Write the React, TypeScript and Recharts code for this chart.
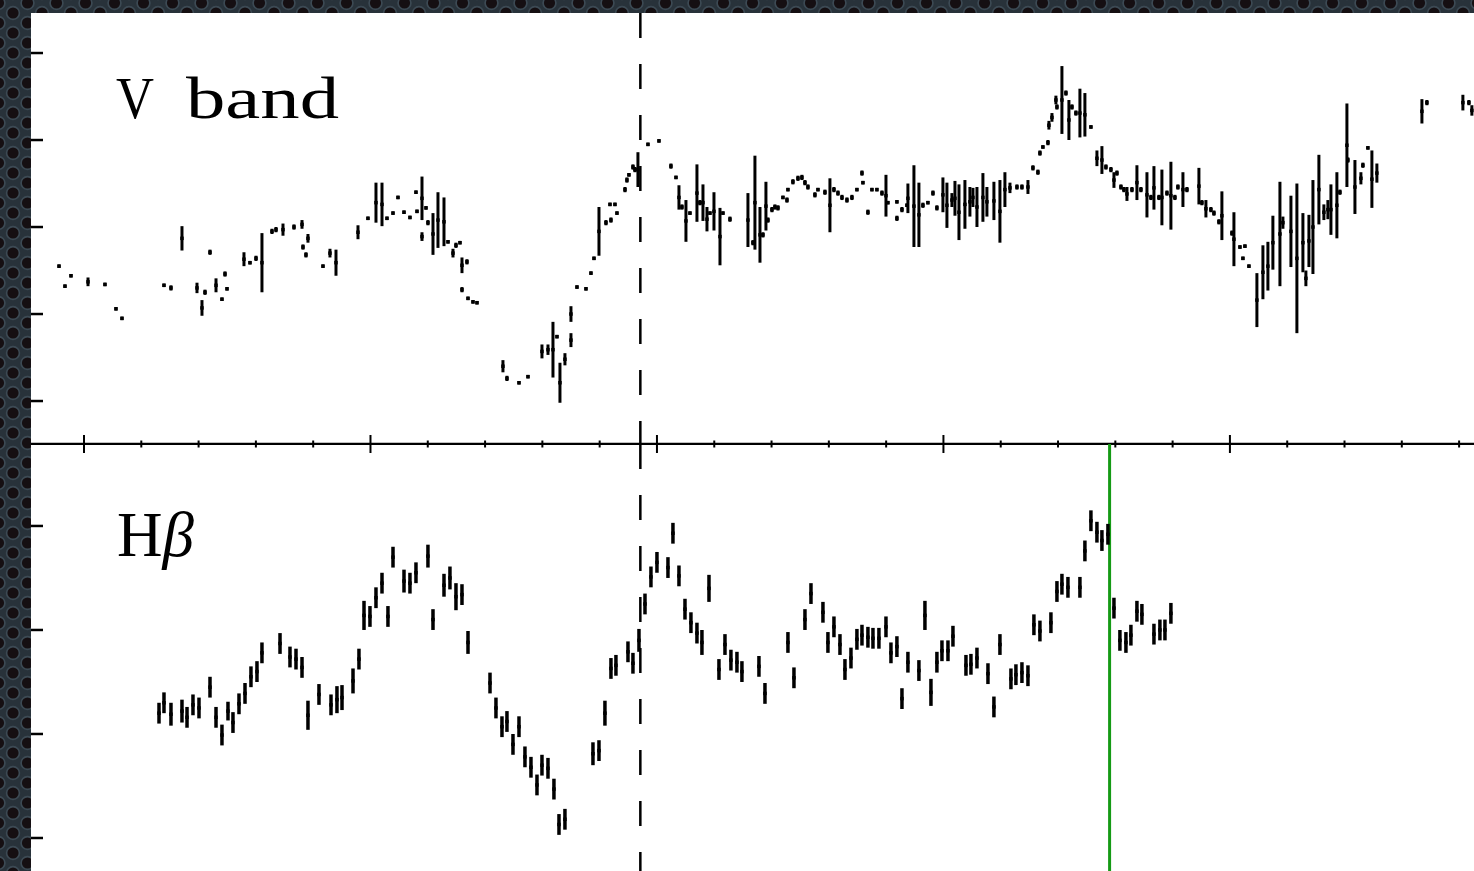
import React from 'react';
import { ScatterChart, Scatter, XAxis, YAxis, ErrorBar, ReferenceLine } from 'recharts';

type Pt = [number, number, number]; // [day, flux, error]

// V-band continuum light curve
const vBandSeason1: Pt[] = [
  [-4.36, 2.55, 0.02], [-3.32, 2.32, 0.02], [-2.27, 2.44, 0.02], [0.7, 2.37, 0.05], [3.66, 2.34, 0.02],
  [5.58, 2.06, 0.02], [6.63, 1.95, 0.02], [13.96, 2.33, 0.02], [15.18, 2.3, 0.03], [17.1, 2.87, 0.14],
  [19.72, 2.3, 0.06], [20.59, 2.07, 0.09], [21.12, 2.25, 0.03], [21.99, 2.71, 0.03], [23.04, 2.33, 0.08],
  [24.08, 2.17, 0.02], [24.61, 2.46, 0.03], [24.96, 2.29, 0.02], [27.92, 2.63, 0.08], [28.97, 2.59, 0.02],
  [30.02, 2.64, 0.03], [31.06, 2.59, 0.34], [32.81, 2.95, 0.03], [33.51, 2.97, 0.03], [34.73, 2.97, 0.07],
  [36.65, 3.0, 0.03], [38.05, 3.03, 0.05], [38.22, 2.77, 0.03], [38.74, 2.68, 0.03], [39.09, 2.87, 0.05],
  [41.71, 2.55, 0.02], [42.93, 2.7, 0.05], [43.98, 2.59, 0.15], [47.82, 2.94, 0.08], [49.56, 3.1, 0.02],
  [50.96, 3.28, 0.23], [52.01, 3.26, 0.25], [52.88, 3.1, 0.02], [53.93, 3.16, 0.02], [54.8, 3.34, 0.02],
  [55.85, 3.17, 0.02], [56.89, 3.11, 0.02], [57.94, 3.4, 0.02], [58.12, 3.18, 0.02], [58.99, 3.33, 0.25],
  [59.69, 3.22, 0.02], [58.99, 2.89, 0.05], [60.03, 3.05, 0.03], [60.91, 2.92, 0.24], [61.78, 3.08, 0.32],
  [62.83, 3.06, 0.28], [63.53, 2.83, 0.02], [64.4, 2.7, 0.05], [64.92, 2.79, 0.03], [65.62, 2.82, 0.02],
  [65.97, 2.56, 0.09], [66.84, 2.6, 0.03], [65.97, 2.28, 0.03], [67.02, 2.18, 0.02], [67.89, 2.14, 0.02],
  [68.59, 2.13, 0.02],
];

const vBandRise: Pt[] = [
  [73.12, 1.4, 0.07], [73.82, 1.26, 0.03], [75.92, 1.21, 0.02], [77.49, 1.28, 0.02], [79.93, 1.57, 0.08],
  [80.98, 1.59, 0.06], [81.85, 1.59, 0.32], [82.55, 1.74, 0.02], [83.07, 1.21, 0.23], [83.94, 1.48, 0.07],
  [84.99, 1.7, 0.08], [84.99, 2.0, 0.09], [86.04, 2.31, 0.02], [87.61, 2.29, 0.02], [88.48, 2.47, 0.02],
  [89.01, 2.64, 0.02], [89.88, 2.95, 0.28], [91.1, 3.05, 0.03], [91.97, 3.08, 0.03], [91.8, 3.26, 0.02],
  [92.67, 3.26, 0.02], [93.02, 3.16, 0.02], [94.42, 3.43, 0.03], [94.76, 3.54, 0.03], [95.11, 3.6, 0.02],
  [95.81, 3.69, 0.03], [96.16, 3.66, 0.03], [96.68, 3.66, 0.2], [98.43, 3.95, 0.02], [100.35, 3.99, 0.02],
];

const vBandPlateau: Pt[] = [
  [102.44, 3.7, 0.03], [103.32, 3.57, 0.02], [103.84, 3.34, 0.14], [104.36, 3.23, 0.03], [105.06, 3.07, 0.24],
  [105.76, 3.16, 0.02], [106.98, 3.39, 0.33], [107.5, 3.28, 0.03], [108.03, 3.28, 0.21], [108.73, 3.09, 0.14],
  [109.25, 3.16, 0.02], [109.95, 3.18, 0.22], [111.0, 2.89, 0.33], [111.52, 3.16, 0.02], [112.74, 3.09, 0.03],
  [115.88, 3.08, 0.31], [116.75, 2.82, 0.03], [117.1, 3.28, 0.54], [117.98, 2.91, 0.32], [118.5, 2.91, 0.03],
  [119.02, 3.24, 0.28], [119.37, 3.08, 0.03], [120.07, 3.2, 0.03], [120.59, 3.23, 0.03], [121.12, 3.22, 0.03],
  [121.99, 3.34, 0.02], [122.69, 3.31, 0.03], [122.86, 3.43, 0.02], [123.73, 3.52, 0.03], [124.61, 3.56, 0.03],
  [125.3, 3.57, 0.03], [125.83, 3.51, 0.03], [126.35, 3.46, 0.03], [127.57, 3.37, 0.03], [128.1, 3.43, 0.02],
  [129.32, 3.4, 0.03], [130.19, 3.25, 0.31], [130.89, 3.43, 0.03], [131.59, 3.39, 0.03], [132.29, 3.34, 0.03],
  [133.16, 3.31, 0.03], [134.03, 3.34, 0.03], [134.9, 3.43, 0.02], [135.78, 3.62, 0.03], [135.95, 3.51, 0.02],
  [136.82, 3.17, 0.03], [137.52, 3.43, 0.02], [138.39, 3.43, 0.02], [139.27, 3.39, 0.03], [139.97, 3.36, 0.24],
  [140.31, 3.28, 0.02], [141.88, 3.29, 0.02], [141.88, 3.1, 0.03], [142.76, 3.2, 0.03], [143.63, 3.25, 0.02],
  [143.8, 3.33, 0.17], [144.85, 3.24, 0.47], [145.72, 3.14, 0.37], [146.42, 3.25, 0.03], [147.29, 3.28, 0.02],
  [148.17, 3.39, 0.03], [148.86, 3.22, 0.03], [149.91, 3.37, 0.2], [150.61, 3.25, 0.26], [151.48, 3.31, 0.08],
  [152.01, 3.33, 0.2], [152.71, 3.17, 0.32], [153.75, 3.26, 0.28], [154.62, 3.29, 0.17], [155.15, 3.34, 0.11],
  [155.85, 3.23, 0.23], [156.89, 3.34, 0.28], [157.59, 3.29, 0.17], [158.81, 3.3, 0.22], [159.86, 3.18, 0.36],
  [160.73, 3.43, 0.2], [161.61, 3.45, 0.06], [162.83, 3.46, 0.03], [163.7, 3.46, 0.03], [164.75, 3.46, 0.08],
  [165.62, 3.68, 0.03], [166.49, 3.63, 0.03], [166.84, 3.85, 0.03], [167.36, 3.92, 0.02], [168.24, 3.97, 0.03],
];

const vBandFlare: Pt[] = [
  [168.41, 4.17, 0.05], [168.94, 4.26, 0.05], [169.63, 4.46, 0.05], [169.81, 4.38, 0.03], [170.68, 4.46, 0.39],
  [171.38, 4.54, 0.03], [171.9, 4.23, 0.23], [172.43, 4.38, 0.03], [173.12, 4.31, 0.03], [173.82, 4.31, 0.28],
  [174.69, 4.29, 0.25], [175.74, 4.15, 0.02], [176.79, 3.79, 0.09], [177.66, 3.77, 0.16], [178.36, 3.69, 0.03],
  [179.23, 3.66, 0.03], [179.76, 3.54, 0.09], [180.28, 3.62, 0.03], [180.98, 3.46, 0.03], [181.5, 3.43, 0.03],
  [182.03, 3.38, 0.08], [182.9, 3.43, 0.03], [183.77, 3.51, 0.2], [184.47, 3.43, 0.03], [185.52, 3.37, 0.26],
  [186.21, 3.34, 0.03], [186.74, 3.45, 0.25], [187.61, 3.34, 0.03], [188.13, 3.34, 0.32], [189.01, 3.39, 0.03],
  [189.7, 3.36, 0.39], [190.4, 3.34, 0.03], [190.92, 3.46, 0.03], [191.8, 3.43, 0.2], [192.5, 3.43, 0.03],
  [194.59, 3.47, 0.21], [195.11, 3.28, 0.03], [195.81, 3.21, 0.1], [196.68, 3.2, 0.03], [197.21, 3.16, 0.03],
  [198.08, 3.06, 0.03], [198.6, 3.13, 0.28],
];

const vBandDip: Pt[] = [
  [200.35, 2.93, 0.03], [200.7, 2.86, 0.31], [201.75, 2.77, 0.02], [202.62, 2.78, 0.02], [202.27, 2.64, 0.02],
  [203.32, 2.55, 0.02], [204.71, 2.16, 0.31], [205.76, 2.48, 0.31], [206.63, 2.55, 0.28], [207.5, 2.82, 0.31],
  [208.73, 2.92, 0.6], [209.25, 3.05, 0.07], [210.65, 2.95, 0.41], [211.69, 2.64, 0.86], [212.74, 2.82, 0.34],
  [213.26, 2.41, 0.09], [213.79, 2.84, 0.3], [214.49, 3.0, 0.54], [215.53, 3.43, 0.4], [216.4, 3.17, 0.09],
  [217.1, 3.2, 0.11], [217.63, 3.2, 0.29], [218.67, 3.25, 0.38], [219.2, 3.4, 0.03], [220.42, 3.94, 0.48],
  [220.59, 3.77, 0.03], [221.82, 3.46, 0.31], [222.86, 3.56, 0.07], [223.21, 3.71, 0.03], [224.08, 3.91, 0.02],
  [224.78, 3.55, 0.33], [225.65, 3.62, 0.11], [233.51, 4.33, 0.14], [234.38, 4.43, 0.03], [240.66, 4.43, 0.09],
  [241.71, 4.43, 0.03], [242.23, 4.34, 0.06],
];

// H-beta emission-line light curve
const hbetaSeason1: Pt[] = [
  [13.09, 2.2, 0.1], [13.96, 2.3, 0.1], [15.18, 2.19, 0.11], [17.1, 2.22, 0.11], [17.98, 2.16, 0.1],
  [19.02, 2.28, 0.1], [20.07, 2.25, 0.1], [21.99, 2.45, 0.1], [23.04, 2.16, 0.1], [24.08, 1.99, 0.1],
  [25.13, 2.22, 0.09], [26.0, 2.11, 0.1], [27.05, 2.29, 0.1], [28.1, 2.39, 0.1], [29.14, 2.55, 0.1],
  [30.19, 2.6, 0.1], [31.06, 2.78, 0.1], [34.21, 2.87, 0.1], [35.95, 2.74, 0.1], [37.0, 2.72, 0.1],
  [38.05, 2.64, 0.1], [39.09, 2.18, 0.14], [41.01, 2.38, 0.1], [43.11, 2.28, 0.1], [44.15, 2.33, 0.13],
  [45.03, 2.35, 0.12], [46.95, 2.51, 0.12], [47.99, 2.72, 0.1], [48.87, 3.14, 0.14], [49.91, 3.13, 0.1],
  [50.96, 3.31, 0.1], [52.01, 3.45, 0.1], [53.05, 3.13, 0.1], [53.93, 3.7, 0.1], [55.85, 3.47, 0.11],
  [56.89, 3.45, 0.1], [57.94, 3.55, 0.1], [60.03, 3.71, 0.11], [60.91, 3.1, 0.1], [62.83, 3.43, 0.11],
  [63.87, 3.5, 0.11], [64.92, 3.32, 0.13], [65.97, 3.34, 0.1], [67.02, 2.88, 0.11],
];

const hbetaDecline: Pt[] = [
  [70.86, 2.49, 0.1], [71.9, 2.25, 0.1], [72.95, 2.07, 0.1], [73.82, 2.12, 0.1], [74.87, 1.9, 0.1],
  [75.92, 2.07, 0.1], [76.96, 1.78, 0.1], [78.01, 1.68, 0.1], [79.06, 1.51, 0.1], [79.93, 1.7, 0.1],
  [80.98, 1.67, 0.1], [82.02, 1.47, 0.1], [82.9, 1.13, 0.1], [83.94, 1.18, 0.1], [88.83, 1.81, 0.11],
  [89.88, 1.84, 0.1], [90.92, 2.2, 0.12], [91.97, 2.63, 0.1], [92.84, 2.66, 0.1], [94.94, 2.79, 0.1],
  [95.81, 2.68, 0.1], [96.86, 2.9, 0.11],
];

const hbetaPeak: Pt[] = [
  [97.91, 3.25, 0.1], [98.95, 3.51, 0.1], [100.0, 3.65, 0.1], [101.92, 3.6, 0.1], [102.79, 3.93, 0.1],
  [103.84, 3.52, 0.1], [104.89, 3.2, 0.1], [105.93, 3.07, 0.1], [106.98, 2.97, 0.1], [107.85, 2.88, 0.12],
  [109.08, 3.4, 0.13], [110.82, 2.62, 0.1], [111.87, 2.86, 0.1], [112.91, 2.71, 0.1], [113.96, 2.69, 0.1],
  [114.83, 2.6, 0.1], [117.8, 2.65, 0.1], [118.85, 2.39, 0.1], [122.86, 2.88, 0.1], [123.91, 2.54, 0.1],
  [125.83, 3.1, 0.1], [126.88, 3.35, 0.1], [128.97, 3.17, 0.1], [129.84, 2.88, 0.1], [130.89, 3.03, 0.1],
  [131.94, 2.86, 0.1], [132.81, 2.62, 0.1], [133.86, 2.73, 0.1], [134.9, 2.91, 0.1], [135.78, 2.95, 0.1],
  [136.82, 2.93, 0.1], [137.7, 2.92, 0.1], [138.74, 2.92, 0.1], [139.97, 3.03, 0.1], [140.84, 2.78, 0.1],
  [141.88, 2.84, 0.1], [142.76, 2.34, 0.1], [143.8, 2.69, 0.1], [145.72, 2.61, 0.1], [146.77, 3.14, 0.14],
  [147.82, 2.4, 0.13], [148.86, 2.69, 0.1], [149.74, 2.8, 0.1], [150.79, 2.8, 0.1], [151.66, 2.94, 0.1],
  [153.93, 2.66, 0.1], [154.8, 2.67, 0.1], [155.85, 2.73, 0.1], [157.77, 2.58, 0.1], [158.81, 2.26, 0.1],
  [159.86, 2.86, 0.1], [161.78, 2.53, 0.1], [162.65, 2.57, 0.1], [163.7, 2.59, 0.1], [164.75, 2.56, 0.1],
];

const hbetaFlare: Pt[] = [
  [165.79, 3.05, 0.1], [166.84, 2.99, 0.1], [168.76, 3.07, 0.1], [169.81, 3.37, 0.1], [170.68, 3.44, 0.1],
  [171.73, 3.41, 0.1], [173.82, 3.41, 0.1], [174.69, 3.76, 0.1], [175.74, 4.05, 0.1], [176.79, 3.94, 0.1],
  [177.66, 3.86, 0.1], [178.71, 3.92, 0.1], [179.76, 3.21, 0.1], [180.8, 2.9, 0.1], [181.85, 2.88, 0.1],
  [182.72, 2.95, 0.1], [183.77, 3.18, 0.1], [184.64, 3.15, 0.1], [186.74, 2.96, 0.1], [187.78, 3.0, 0.1],
  [188.66, 3.0, 0.1], [189.7, 3.16, 0.1],
];

const dayTicks = [0, 10, 20, 30, 40, 50, 60, 70, 80, 90, 100, 110, 120, 130, 140, 150, 160, 170, 180, 190, 200, 210, 220, 230, 240];
const vBandTicks = [1, 2, 3, 4, 5];
const hbetaTicks = [1, 2, 3, 4];

const DAY_DOMAIN: [number, number] = [-9.25, 242.6];
const VBAND_DOMAIN: [number, number] = [0.506, 5.46];
const HBETA_DOMAIN: [number, number] = [0.673, 4.788];

const MAX_DAY = 97.1; // continuum maximum, dashed marker
const CUT_DAY = 179.0; // green marker in the line panel

const toRows = (...parts: Pt[][]) => parts.flat().map(([day, flux, err]) => ({ day, flux, err }));

const vBandRows = toRows(vBandSeason1, vBandRise, vBandPlateau, vBandFlare, vBandDip);
const hbetaRows = toRows(hbetaSeason1, hbetaDecline, hbetaPeak, hbetaFlare);

// inward tick marks, majors every 50 days; no tick labels
const xTick = (dir: number, major: number, minor: number, sw: number) => (p: any) => {
  const len = p.payload.value % 50 === 0 ? major : minor;
  return <line x1={p.x} x2={p.x} y1={p.y} y2={p.y + dir * len} stroke="#000" strokeWidth={sw} />;
};
const yTick = (p: any) => (
  <line x1={p.x} x2={p.x + 12} y1={p.y} y2={p.y} stroke="#000" strokeWidth={2.5} />
);

const square = (size: number) => (p: any) => (
  <rect x={p.cx - size / 2} y={p.cy - size / 2} width={size} height={size} fill="#000" />
);

const vLine = (stroke: string, width: number, dash?: string) => (p: any) => (
  <line
    x1={p.x1}
    x2={p.x2}
    y1={Math.min(p.y1, p.y2)}
    y2={Math.max(p.y1, p.y2)}
    stroke={stroke}
    strokeWidth={width}
    strokeDasharray={dash}
  />
);

const noMargin = { top: 0, right: 0, bottom: 0, left: 0 };

const serif = '"Liberation Serif", "Times New Roman", serif';

export default function App() {
  return (
    <div style={{ position: 'fixed', left: 0, top: 0, width: 1474, height: 871, overflow: 'hidden', background: '#1d2329' }}>
      <svg width={1474} height={871} style={{ position: 'absolute', left: 0, top: 0 }}>
        <defs>
          <pattern id="mesh" x={13} y={13} width={29} height={20} patternUnits="userSpaceOnUse">
            <rect width={29} height={20} fill="#28323a" />
            {[
              [0, 0],
              [29, 0],
              [0, 20],
              [29, 20],
              [14.5, 10],
            ].map(([cx, cy], i) => (
              <circle key={i} cx={cx} cy={cy} r={6.4} fill="#150f12" stroke="#3c4a54" strokeWidth={1.6} />
            ))}
          </pattern>
        </defs>
        <rect width={1474} height={871} fill="url(#mesh)" />
        <rect x={31} y={13} width={1443} height={858} fill="#fff" />
      </svg>

      {/* V band panel */}
      <div style={{ position: 'absolute', left: 30, top: 12 }}>
        <ScatterChart width={1444} height={433} margin={noMargin}>
          <XAxis
            type="number"
            dataKey="day"
            domain={DAY_DOMAIN}
            ticks={dayTicks}
            interval={0}
            height={1}
            tickSize={0}
            tickMargin={0}
            tickLine={false}
            axisLine={{ stroke: '#000', strokeWidth: 2.5 }}
            tick={xTick(-1, 9, 3.5, 2)}
          />
          <XAxis
            xAxisId="top"
            orientation="top"
            type="number"
            dataKey="day"
            domain={DAY_DOMAIN}
            ticks={dayTicks}
            interval={0}
            height={1}
            tickSize={0}
            tickMargin={0}
            tickLine={false}
            axisLine={false}
            tick={xTick(1, 5, 2, 2)}
          />
          <YAxis
            type="number"
            dataKey="flux"
            domain={VBAND_DOMAIN}
            ticks={vBandTicks}
            interval={0}
            width={1}
            tickSize={0}
            tickMargin={0}
            tickLine={false}
            axisLine={false}
            tick={yTick}
          />
          <ReferenceLine x={MAX_DAY} shape={vLine('#000', 2.5, '25 26')} />
          <Scatter data={vBandRows} shape={square(3.5)} isAnimationActive={false}>
            <ErrorBar dataKey="err" direction="y" width={0} stroke="#000" strokeWidth={3} isAnimationActive={false} />
          </Scatter>
        </ScatterChart>
      </div>

      {/* H-beta panel */}
      <div style={{ position: 'absolute', left: 30, top: 443 }}>
        <ScatterChart width={1444} height={429} margin={noMargin}>
          <XAxis
            orientation="top"
            type="number"
            dataKey="day"
            domain={DAY_DOMAIN}
            ticks={dayTicks}
            interval={0}
            height={1}
            tickSize={0}
            tickMargin={0}
            tickLine={false}
            axisLine={false}
            tick={xTick(1, 9, 3.5, 2)}
          />
          <YAxis
            type="number"
            dataKey="flux"
            domain={HBETA_DOMAIN}
            ticks={hbetaTicks}
            interval={0}
            width={1}
            tickSize={0}
            tickMargin={0}
            tickLine={false}
            axisLine={false}
            tick={yTick}
          />
          <ReferenceLine x={MAX_DAY} shape={vLine('#000', 2.5, '25 26')} />
          <ReferenceLine x={CUT_DAY} shape={vLine('#159a15', 3)} />
          <Scatter data={hbetaRows} shape={square(3.5)} isAnimationActive={false}>
            <ErrorBar dataKey="err" direction="y" width={0} stroke="#000" strokeWidth={3.5} isAnimationActive={false} />
          </Scatter>
        </ScatterChart>
      </div>

      <svg width={1474} height={871} style={{ position: 'absolute', left: 0, top: 0, pointerEvents: 'none' }}>
        <text x={116} y={118} fontFamily={serif} fontSize={60} fill="#000" textLength={38} lengthAdjust="spacingAndGlyphs">
          V
        </text>
        <text x={186} y={118} fontFamily={serif} fontSize={60} fill="#000" textLength={153} lengthAdjust="spacingAndGlyphs">
          band
        </text>
        <text x={117} y={556} fontFamily={serif} fontSize={63} fill="#000">
          H<tspan fontStyle="italic">β</tspan>
        </text>
      </svg>
    </div>
  );
}
